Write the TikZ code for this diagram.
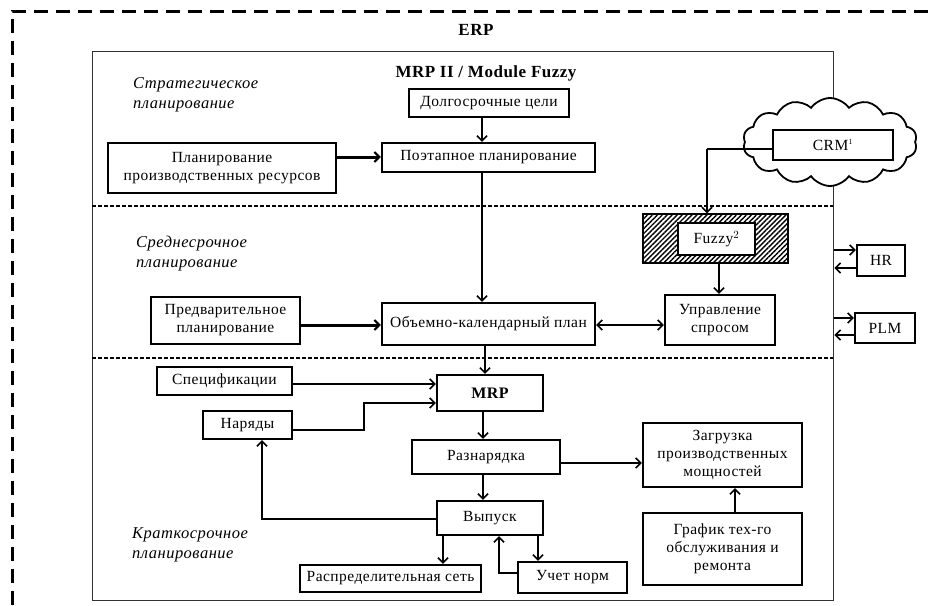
\documentclass[tikz,border=0pt]{standalone}
\usepackage{fontspec}
\setmainfont{Liberation Serif}
\newfontfamily\boxfont[LetterSpace=3]{Liberation Serif}
\usetikzlibrary{arrows.meta,shapes.symbols,patterns.meta}
\begin{document}
\begin{tikzpicture}[x=1pt,y=-1pt,
  bx/.style={draw, line width=2.4pt, fill=white, align=center, inner sep=1pt, font=\boxfont\fontsize{15.5}{18}\selectfont},
  arr/.style={line width=2pt, -{Straight Barb[length=5pt,width=10pt,line width=1.6pt]}},
  dblarr/.style={line width=2pt, {Straight Barb[length=5pt,width=10pt,line width=1.6pt]}-{Straight Barb[length=5pt,width=10pt,line width=1.6pt]}},
  thickarr/.style={line width=3pt, -{Straight Barb[length=5pt,width=10pt,line width=2pt]}},
  lbl/.style={font=\boxfont\fontsize{16.5}{20}\selectfont\itshape, align=left, anchor=west, inner sep=0pt},
  sep/.style={line width=1.8pt, dash pattern=on 4pt off 2pt},
  ttl/.style={font=\boxfont\fontsize{17}{18}\selectfont\bfseries, inner sep=0pt}
]
\useasboundingbox (0,0) rectangle (933,605);
% outer ERP frame (cut off at right and bottom)
\draw[line width=3pt, dash pattern=on 14pt off 8pt] (12,605) -- (12,11) -- (933,11);
\node[ttl] (erp) at (476,30) {ERP};
% inner MRP II box
\node[draw=black!80, line width=1.4pt, minimum width=741pt, minimum height=549pt, anchor=north west, inner sep=0pt] (mrpbox) at (92,51) {};
\node[ttl] (title) at (486,73) {MRP II / Module Fuzzy};
% separators
\coordinate (s1l) at (92,206); \coordinate (s1r) at (833,206);
\coordinate (s2l) at (92,358); \coordinate (s2r) at (833,358);
\draw[sep] (s1l) -- (s1r);
\draw[sep] (s2l) -- (s2r);
% level labels
\node[lbl] (lstrat) at (133,95) {Стратегическое\\планирование};
\node[lbl] (lmid) at (136,254) {Среднесрочное\\планирование};
\node[lbl] (lshort) at (132,545) {Краткосрочное\\планирование};
% cloud and CRM
\node[cloud, cloud puffs=14, cloud puff arc=110, draw, line width=1.8pt, fill=white, minimum width=174pt, minimum height=88pt] (cloud) at (830,142) {};
\node[bx, minimum width=120pt, minimum height=30pt] (crm) at (833,145) {CRM$^{\scriptscriptstyle 1}$};
% strategic boxes
\node[bx, minimum width=160pt, minimum height=28pt] (dolg) at (489,103) {Долгосрочные цели};
\node[bx, minimum width=213pt, minimum height=29pt] (poet) at (488.5,157.5) {Поэтапное планирование};
\node[bx, minimum width=228pt, minimum height=50pt] (planres) at (222,168) {Планирование\\производственных ресурсов};
% medium boxes
\node[draw, line width=2.4pt, pattern={Lines[angle=45,distance=3.5pt,line width=1.4pt]}, minimum width=145pt, minimum height=49pt, inner sep=0pt] (fuzzyh) at (715.5,238.5) {};
\node[bx, line width=1.8pt, minimum width=77pt, minimum height=32pt] (fuzzy) at (716.5,239) {Fuzzy$^{\scriptstyle 2}$};
\node[bx, minimum width=110pt, minimum height=50pt] (uprav) at (720,320) {Управление\\спросом};
\node[bx, minimum width=213pt, minimum height=42pt] (obem) at (488.5,324) {Объемно-календарный план};
\node[bx, minimum width=149pt, minimum height=47pt] (predv) at (225.5,320.5) {Предварительное\\планирование};
\node[bx, minimum width=48pt, minimum height=31pt] (hr) at (881,260.5) {HR};
\node[bx, minimum width=60pt, minimum height=30pt] (plm) at (885,328) {PLM};
% short-term boxes
\node[bx, minimum width=135pt, minimum height=28pt] (spec) at (224.5,381) {Спецификации};
\node[bx, minimum width=89pt, minimum height=28pt] (nar) at (247.5,425) {Наряды};
\node[bx, minimum width=106pt, minimum height=36pt, font=\boxfont\fontsize{16}{18}\selectfont\bfseries] (mrp) at (490,393) {MRP};
\node[bx, minimum width=148pt, minimum height=34pt] (razn) at (486,457) {Разнарядка};
\node[bx, minimum width=159pt, minimum height=64pt] (zagr) at (722.5,455) {Загрузка\\производственных\\мощностей};
\node[bx, minimum width=106pt, minimum height=34pt] (vyp) at (490,518) {Выпуск};
\node[bx, minimum width=181pt, minimum height=27pt] (rasp) at (390.5,578.5) {Распределительная сеть};
\node[bx, minimum width=109pt, minimum height=31pt] (uchet) at (572.5,577.5) {Учет норм};
\node[bx, minimum width=159pt, minimum height=72pt] (graf) at (722.5,549) {График тех-го\\обслуживания и\\ремонта};
% connectors: strategic
\draw[arr] (dolg.south -| 482,0) -- (poet.north -| 482,0);
\draw[thickarr] (planres.east |- 0,157) -- (poet.west |- 0,157);
\draw[arr] (poet.south -| 482,0) -- (obem.north -| 482,0);
\coordinate (crmturn) at (707,149);
\draw[line width=1.2pt] (crm.west |- crmturn) -- (crmturn);
\draw[arr] (crmturn) -- (fuzzyh.north -| crmturn);
% medium
\draw[arr] (fuzzyh.south -| 719,0) -- (uprav.north -| 719,0);
\draw[thickarr] (predv.east |- 0,325) -- (obem.west |- 0,325);
\draw[dblarr] (obem.east |- 0,325) -- (uprav.west |- 0,325);
\draw[arr] (obem.south -| 485,0) -- (mrp.north -| 485,0);
\draw[arr] (mrpbox.east |- 0,250) -- (hr.west |- 0,250);
\draw[arr] (hr.west |- 0,268) -- (mrpbox.east |- 0,268);
\draw[arr] (mrpbox.east |- 0,318) -- (plm.west |- 0,318);
\draw[arr] (plm.west |- 0,335) -- (mrpbox.east |- 0,335);
% short-term
\draw[arr] (spec.east |- 0,384) -- (mrp.west |- 0,384);
\draw[arr] (nar.east |- 0,430) -- (364,430) -- (364,403) -- (mrp.west |- 0,403);
\draw[arr] (mrp.south -| 483,0) -- (razn.north -| 483,0);
\draw[arr] (razn.east |- 0,463) -- (zagr.west |- 0,463);
\draw[arr] (razn.south -| 483,0) -- (vyp.north -| 483,0);
\draw[arr] (vyp.west |- 0,519) -- (262,519) -- (nar.south -| 262,0);
\draw[arr] (vyp.south -| 443,0) -- (rasp.north -| 443,0);
\draw[arr] (vyp.south -| 538,0) -- (uchet.north -| 538,0);
\draw[arr] (uchet.west |- 0,573) -- (499,573) -- (vyp.south -| 499,0);
\draw[arr] (graf.north -| 735,0) -- (zagr.south -| 735,0);
\end{tikzpicture}
\end{document}
